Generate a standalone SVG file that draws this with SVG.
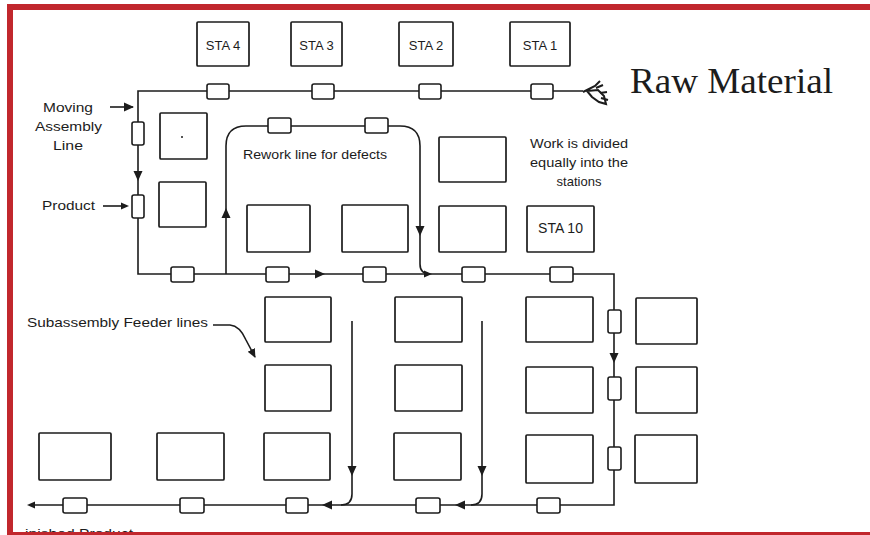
<svg xmlns="http://www.w3.org/2000/svg" xmlns:xlink="http://www.w3.org/1999/xlink" width="870" height="535" viewBox="0 0 870 535">
<style>
.ln{fill:none;stroke:#1c1c1c;stroke-width:1.6}
.bx{fill:#fff;stroke:#1c1c1c;stroke-width:1.7}
.cv{fill:#fff;stroke:#1c1c1c;stroke-width:1.6}
.t{font-family:"Liberation Sans",Arial,sans-serif;fill:#1c1c1c}
.ah{fill:#1c1c1c}
.frame{fill:#C1272D}
</style>
<defs>
<path id="ah" d="M0,0 L-10,-4.5 L-10,4.5 Z"/>
<marker id="mk" markerWidth="10" markerHeight="10" refX="8" refY="5" orient="auto" markerUnits="userSpaceOnUse"><path d="M0,1 L9,5 L0,9 Z" fill="#1c1c1c"/></marker>
</defs>
<rect width="870" height="535" fill="#fff"/>

<g id="connectors">
  <path class="ln" d="M583,91 H138 V274 H614 V505 H30"/>
  <path class="ln" d="M226,274 V146 Q226,126 246,126 H400 Q420,126 420,146 V264 Q420,274 430,274"/>
  <path class="ln" d="M352,321 V494 Q352,505 341,505"/>
  <path class="ln" d="M482,321 V494 Q482,505 471,505"/>
  <path class="ln" d="M133,107 H110"/>
  <path class="ln" d="M127,206 H103"/>
  <path class="ln" d="M213,325 H230 Q240,326 246,340 L255,357" marker-end="url(#mk)"/>
  <g class="ah">
    <use xlink:href="#ah" transform="translate(134,107)"/>
    <use xlink:href="#ah" transform="translate(129,206) scale(0.8)"/>
    <use xlink:href="#ah" transform="translate(138,181) rotate(90)"/>
    <use xlink:href="#ah" transform="translate(325,274)"/>
    <use xlink:href="#ah" transform="translate(226,208) rotate(-90)"/>
    <use xlink:href="#ah" transform="translate(420,236) rotate(90)"/>
    <use xlink:href="#ah" transform="translate(432,274) scale(0.8)"/>
    <use xlink:href="#ah" transform="translate(614,363) rotate(90)"/>
    <use xlink:href="#ah" transform="translate(352,476) rotate(90)"/>
    <use xlink:href="#ah" transform="translate(482,476) rotate(90)"/>
    <use xlink:href="#ah" transform="translate(322,505) rotate(180)"/>
    <use xlink:href="#ah" transform="translate(455,505) rotate(180)"/>
    <use xlink:href="#ah" transform="translate(27,505) rotate(180) scale(0.8)"/>
  </g>
  <path d="M583,92 L595,86 L600,81 M587,91 L598,90 L604,96 L606,104 L599,102 L592,97 Z M596,88 L603,85 M600,93 L607,92 M601,98 L608,100" fill="none" stroke="#1c1c1c" stroke-width="2"/>
</g>

<g id="conveyor-top">
  <rect class="cv" x="207" y="84" width="22" height="15" rx="2"/>
  <rect class="cv" x="312" y="84" width="22" height="15" rx="2"/>
  <rect class="cv" x="419" y="84" width="22" height="15" rx="2"/>
  <rect class="cv" x="531" y="84" width="22" height="15" rx="2"/>
</g>
<g id="conveyor-left">
  <rect class="cv" x="132" y="122" width="12" height="23" rx="2"/>
  <rect class="cv" x="132" y="195" width="12" height="23" rx="2"/>
</g>
<g id="conveyor-rework">
  <rect class="cv" x="268" y="118" width="23" height="15" rx="2"/>
  <rect class="cv" x="365" y="118" width="23" height="15" rx="2"/>
</g>
<g id="conveyor-middle">
  <rect class="cv" x="171" y="267" width="23" height="15" rx="2"/>
  <rect class="cv" x="266" y="267" width="23" height="15" rx="2"/>
  <rect class="cv" x="363" y="267" width="23" height="15" rx="2"/>
  <rect class="cv" x="462" y="267" width="23" height="15" rx="2"/>
  <rect class="cv" x="550" y="267" width="23" height="15" rx="2"/>
</g>
<g id="conveyor-right">
  <rect class="cv" x="608" y="310" width="13" height="23" rx="2"/>
  <rect class="cv" x="608" y="377" width="13" height="23" rx="2"/>
  <rect class="cv" x="608" y="447" width="13" height="23" rx="2"/>
</g>
<g id="conveyor-bottom">
  <rect class="cv" x="63" y="498" width="24" height="15" rx="2"/>
  <rect class="cv" x="180" y="498" width="24" height="15" rx="2"/>
  <rect class="cv" x="286" y="498" width="22" height="15" rx="2"/>
  <rect class="cv" x="416" y="498" width="24" height="15" rx="2"/>
  <rect class="cv" x="537" y="498" width="23" height="15" rx="2"/>
</g>

<g id="sta4"><rect class="bx" x="197" y="22" width="52" height="44" rx="1"/><text class="t" x="223" y="50" font-size="13" text-anchor="middle">STA 4</text></g>
<g id="sta3"><rect class="bx" x="291" y="22" width="51" height="44" rx="1"/><text class="t" x="316.5" y="50" font-size="13" text-anchor="middle">STA 3</text></g>
<g id="sta2"><rect class="bx" x="399" y="22" width="54" height="44" rx="1"/><text class="t" x="426" y="50" font-size="13" text-anchor="middle">STA 2</text></g>
<g id="sta1"><rect class="bx" x="510" y="22" width="60" height="44" rx="1"/><text class="t" x="540" y="50" font-size="13" text-anchor="middle">STA 1</text></g>

<g id="raw-material"><text x="630" y="93" font-family="'Liberation Serif','Times New Roman',serif" font-size="36" fill="#1c1c1c" textLength="203" lengthAdjust="spacingAndGlyphs">Raw Material</text></g>

<g id="label-moving">
  <text class="t" font-size="13.5" x="43" y="112" textLength="50" lengthAdjust="spacingAndGlyphs">Moving</text>
  <text class="t" font-size="13.5" x="35" y="131" textLength="67" lengthAdjust="spacingAndGlyphs">Assembly</text>
  <text class="t" font-size="13.5" x="53" y="150" textLength="30" lengthAdjust="spacingAndGlyphs">Line</text>
</g>
<g id="label-product"><text class="t" font-size="13.5" x="42" y="210" textLength="53" lengthAdjust="spacingAndGlyphs">Product</text></g>

<g id="st-left1"><rect class="bx" x="160" y="113" width="47" height="46" rx="1"/><circle cx="182" cy="137" r="1" fill="#1c1c1c"/></g>
<g id="st-left2"><rect class="bx" x="159" y="182" width="47" height="45" rx="1"/></g>

<g id="label-rework"><text class="t" font-size="13" x="243" y="159" textLength="144" lengthAdjust="spacingAndGlyphs">Rework line for defects</text></g>

<g id="st-mid-a"><rect class="bx" x="247" y="205" width="63" height="47" rx="1"/></g>
<g id="st-mid-b"><rect class="bx" x="342" y="205" width="66" height="47" rx="1"/></g>
<g id="st-mid-c"><rect class="bx" x="439" y="206" width="67" height="46" rx="1"/></g>
<g id="st-upper"><rect class="bx" x="439" y="137" width="67" height="45" rx="1"/></g>
<g id="sta10"><rect class="bx" x="527" y="206" width="67" height="46" rx="1"/><text class="t" x="560.5" y="233" font-size="14" text-anchor="middle">STA 10</text></g>

<g id="label-work">
  <text class="t" font-size="13" x="530" y="148" textLength="98" lengthAdjust="spacingAndGlyphs">Work is divided</text>
  <text class="t" font-size="13" x="530" y="167" textLength="98" lengthAdjust="spacingAndGlyphs">equally into the</text>
  <text class="t" font-size="13" x="579" y="186" text-anchor="middle">stations</text>
</g>

<g id="label-sub"><text class="t" font-size="13" x="27" y="327" textLength="181" lengthAdjust="spacingAndGlyphs">Subassembly Feeder lines</text></g>

<g id="sub-c1r1"><rect class="bx" x="265" y="297" width="66" height="45" rx="1"/></g>
<g id="sub-c1r2"><rect class="bx" x="265" y="365" width="66" height="46" rx="1"/></g>
<g id="sub-c1r3"><rect class="bx" x="264" y="433" width="66" height="47" rx="1"/></g>
<g id="sub-c2r1"><rect class="bx" x="395" y="297" width="67" height="45" rx="1"/></g>
<g id="sub-c2r2"><rect class="bx" x="395" y="365" width="67" height="46" rx="1"/></g>
<g id="sub-c2r3"><rect class="bx" x="394" y="433" width="67" height="47" rx="1"/></g>
<g id="sub-c3r1"><rect class="bx" x="526" y="297" width="67" height="45" rx="1"/></g>
<g id="sub-c3r2"><rect class="bx" x="526" y="367" width="67" height="46" rx="1"/></g>
<g id="sub-c3r3"><rect class="bx" x="526" y="435" width="67" height="48" rx="1"/></g>
<g id="sub-c4r1"><rect class="bx" x="636" y="298" width="61" height="46" rx="1"/></g>
<g id="sub-c4r2"><rect class="bx" x="636" y="367" width="61" height="46" rx="1"/></g>
<g id="sub-c4r3"><rect class="bx" x="635" y="435" width="62" height="48" rx="1"/></g>
<g id="bot-1"><rect class="bx" x="39" y="433" width="72" height="47" rx="1"/></g>
<g id="bot-2"><rect class="bx" x="157" y="433" width="67" height="47" rx="1"/></g>

<g id="label-finished"><text class="t" font-size="13" x="25" y="538" textLength="108" lengthAdjust="spacingAndGlyphs">inished Product</text></g>

<g id="frame">
  <rect class="frame" x="7" y="4" width="863" height="6"/>
  <rect class="frame" x="7" y="4" width="6" height="531"/>
  <rect class="frame" x="7" y="532" width="863" height="3"/>
</g>
</svg>
